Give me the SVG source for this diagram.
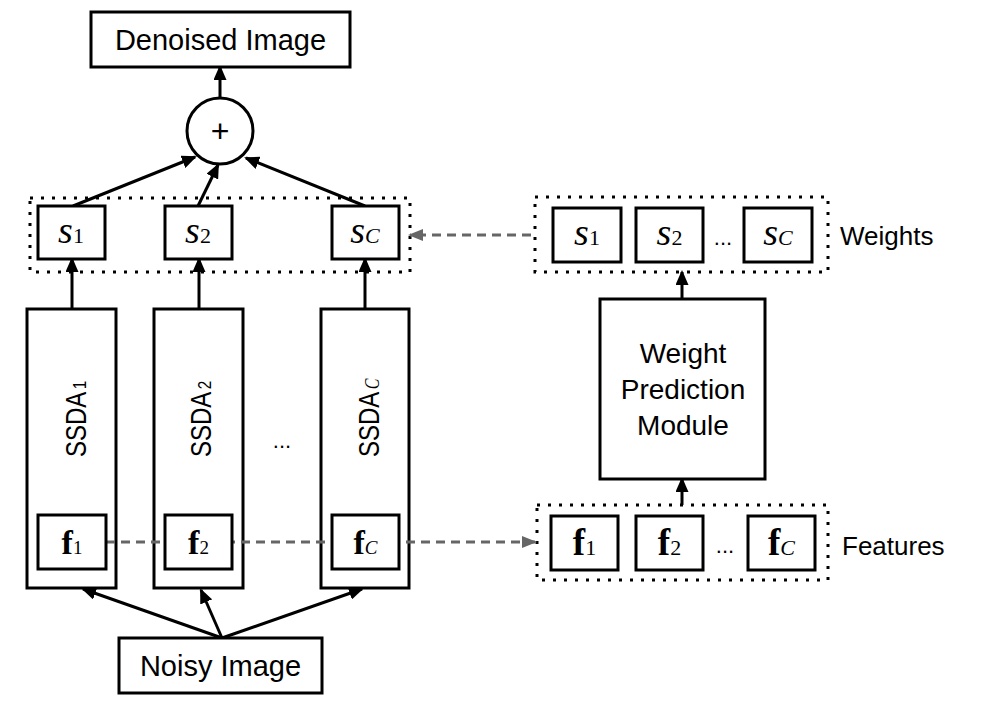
<svg xmlns="http://www.w3.org/2000/svg" width="1001" height="715" viewBox="0 0 1001 715">
<style>
.box{fill:#fff;stroke:#000;stroke-width:3}
.open{fill:none;stroke:#000;stroke-width:3}
.dot{fill:none;stroke:#000;stroke-width:3;stroke-dasharray:3 8}
.arr{stroke:#000;stroke-width:3;fill:none;marker-end:url(#ah)}
.dash{stroke:#666;stroke-width:3;fill:none;stroke-dasharray:9 6;marker-end:url(#gh)}
.sans{font-family:"Liberation Sans",Arial,sans-serif;fill:#000}
.serif{font-family:"Liberation Serif","Times New Roman",serif;fill:#000}
</style>
<defs>
<marker id="ah" markerUnits="userSpaceOnUse" markerWidth="15" markerHeight="13" refX="13" refY="6.5" orient="auto"><path d="M0,0 L15,6.5 L0,13 z" fill="#000"/></marker>
<marker id="gh" markerUnits="userSpaceOnUse" markerWidth="15" markerHeight="12" refX="13" refY="6" orient="auto"><path d="M0,0 L15,6 L0,12 z" fill="#666"/></marker>
</defs>
<rect width="1001" height="715" fill="#fff"/>

<g id="ssda1"><rect class="open" x="27" y="309" width="89" height="279"/>
<text class="sans" font-size="30" transform="translate(85.5,457) rotate(-90) scale(0.8,1)">SSDA<tspan font-size="19" dx="3">1</tspan></text></g>
<g id="ssda2"><rect class="open" x="154" y="309" width="89" height="279"/>
<text class="sans" font-size="30" transform="translate(210.5,457) rotate(-90) scale(0.8,1)">SSDA<tspan font-size="19" dx="3">2</tspan></text></g>
<g id="ssdac"><rect class="open" x="321" y="309" width="88" height="279"/>
<text class="sans" font-size="30" transform="translate(379,457) rotate(-90) scale(0.8,1)">SSDA<tspan class="serif" font-style="italic" font-size="20" dx="3">C</tspan></text></g>
<g id="ellipsis-mid"><text class="sans" font-size="22" x="282" y="448" text-anchor="middle">...</text></g>

<g id="weights-group"><rect class="dot" x="30" y="198" width="380" height="74"/></g>
<g id="weights-right-group"><rect class="dot" x="535" y="197" width="293" height="75"/></g>
<g id="features-group"><rect class="dot" x="537" y="505" width="291" height="75"/></g>

<g id="connectors">
<line class="arr" x1="220" y1="98" x2="220" y2="67"/>
<line class="arr" x1="73" y1="206" x2="195" y2="157"/>
<line class="arr" x1="198" y1="206" x2="218" y2="165"/>
<line class="arr" x1="365" y1="206" x2="246" y2="158"/>
<line class="arr" x1="72" y1="309" x2="72" y2="259"/>
<line class="arr" x1="199" y1="309" x2="199" y2="259"/>
<line class="arr" x1="365" y1="309" x2="365" y2="259"/>
<line class="arr" x1="222" y1="638" x2="83" y2="589"/>
<line class="arr" x1="222" y1="638" x2="201" y2="590"/>
<line class="arr" x1="222" y1="638" x2="362" y2="589"/>
<line class="arr" x1="682" y1="299" x2="682" y2="272"/>
<line class="arr" x1="682" y1="505" x2="682" y2="479"/>
<line class="dash" x1="106" y1="542" x2="535" y2="542"/>
<line class="dash" x1="531" y1="235" x2="410" y2="235"/>
</g>

<g id="denoised"><rect class="box" x="91" y="12" width="259" height="55"/>
<text class="sans" font-size="29" x="220.5" y="50" text-anchor="middle">Denoised Image</text></g>
<g id="sum"><circle class="box" cx="220" cy="131" r="33"/>
<text class="sans" font-size="32" x="220" y="142" text-anchor="middle">+</text></g>

<g id="s1"><rect class="box" x="38" y="206" width="67" height="53"/>
<text class="serif" x="71" y="243" text-anchor="middle"><tspan font-style="italic" font-size="38">s</tspan><tspan font-size="22">1</tspan></text></g>
<g id="s2"><rect class="box" x="165" y="206" width="67" height="53"/>
<text class="serif" x="198" y="243" text-anchor="middle"><tspan font-style="italic" font-size="38">s</tspan><tspan font-size="22">2</tspan></text></g>
<g id="sc"><rect class="box" x="332" y="206" width="67" height="53"/>
<text class="serif" x="365" y="243" text-anchor="middle"><tspan font-style="italic" font-size="38">s</tspan><tspan font-style="italic" font-size="22">C</tspan></text></g>

<g id="f1"><rect class="box" x="38" y="515" width="68" height="54"/>
<text class="serif" x="72" y="554" text-anchor="middle"><tspan font-weight="bold" font-size="34">f</tspan><tspan font-size="19">1</tspan></text></g>
<g id="f2"><rect class="box" x="165" y="515" width="67" height="54"/>
<text class="serif" x="198.5" y="554" text-anchor="middle"><tspan font-weight="bold" font-size="34">f</tspan><tspan font-size="19">2</tspan></text></g>
<g id="fc"><rect class="box" x="332" y="515" width="67" height="54"/>
<text class="serif" x="365.5" y="554" text-anchor="middle"><tspan font-weight="bold" font-size="34">f</tspan><tspan font-style="italic" font-size="19">C</tspan></text></g>

<g id="noisy"><rect class="box" x="119" y="638" width="203" height="55"/>
<text class="sans" font-size="29" x="220.5" y="676" text-anchor="middle">Noisy Image</text></g>

<g id="wpm"><rect class="box" x="600" y="299" width="165" height="180"/>
<text class="sans" font-size="28" text-anchor="middle"><tspan x="683" y="363">Weight</tspan><tspan x="683" y="399">Prediction</tspan><tspan x="683" y="435">Module</tspan></text></g>

<g id="ws1"><rect class="box" x="553" y="208" width="68" height="54"/>
<text class="serif" x="587" y="245" text-anchor="middle"><tspan font-style="italic" font-size="38">s</tspan><tspan font-size="22">1</tspan></text></g>
<g id="ws2"><rect class="box" x="636" y="208" width="67" height="54"/>
<text class="serif" x="669.5" y="245" text-anchor="middle"><tspan font-style="italic" font-size="38">s</tspan><tspan font-size="22">2</tspan></text></g>
<g id="wsc"><rect class="box" x="744" y="208" width="68" height="54"/>
<text class="serif" x="778" y="245" text-anchor="middle"><tspan font-style="italic" font-size="38">s</tspan><tspan font-style="italic" font-size="22">C</tspan></text></g>
<g id="wdots"><text class="sans" font-size="22" x="723" y="245" text-anchor="middle">...</text></g>
<g id="weights-label"><text class="sans" font-size="26" x="840" y="245">Weights</text></g>

<g id="ff1"><rect class="box" x="551" y="516" width="67" height="54"/>
<text class="serif" x="584.5" y="555" text-anchor="middle"><tspan font-weight="bold" font-size="37">f</tspan><tspan font-size="22">1</tspan></text></g>
<g id="ff2"><rect class="box" x="636" y="516" width="67" height="54"/>
<text class="serif" x="669.5" y="555" text-anchor="middle"><tspan font-weight="bold" font-size="37">f</tspan><tspan font-size="22">2</tspan></text></g>
<g id="ffc"><rect class="box" x="748" y="516" width="67" height="54"/>
<text class="serif" x="781.5" y="555" text-anchor="middle"><tspan font-weight="bold" font-size="37">f</tspan><tspan font-style="italic" font-size="22">C</tspan></text></g>
<g id="fdots"><text class="sans" font-size="22" x="725" y="553" text-anchor="middle">...</text></g>
<g id="features-label"><text class="sans" font-size="26" x="842" y="555">Features</text></g>
</svg>
